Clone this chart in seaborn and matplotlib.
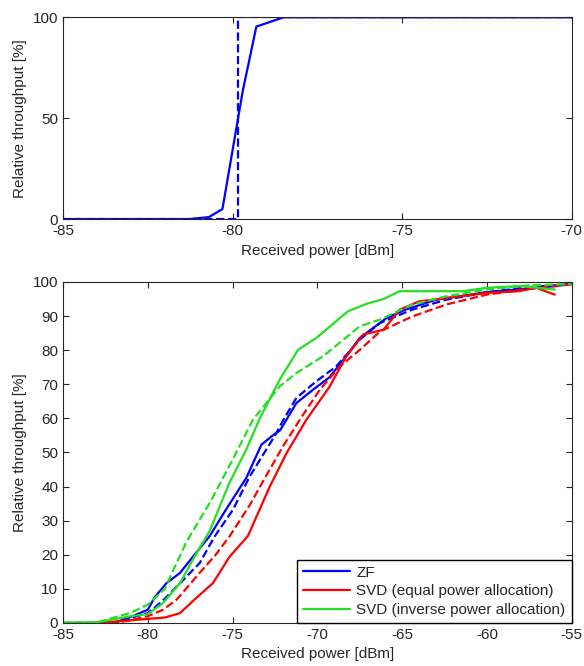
import matplotlib
matplotlib.use('Agg')
import matplotlib.pyplot as plt
import seaborn as sns
from matplotlib.lines import Line2D

# top panel: ZF, single link
top_x = [-85, -81.3, -80.7, -80.3, -79.7, -79.3, -78.5, -70]
top_y = [0, 0, 1, 5, 63.6, 95.4, 100, 100]
top_dash_x = [-85, -79.85, -79.85, -70]
top_dash_y = [0, 0, 100, 100]

# bottom panel
zf_x = [-85, -82, -81, -80, -79.6, -78.9, -78.1, -77.33, -76.35, -75.4, -74.2, -73.3, -72.71,
        -72.2, -71.24, -70.26, -69.3, -68.3, -67.5, -65.9, -64.8, -63, -60, -56.9, -55]
zf_y = [0, 0, 1.8, 3.9, 7.5, 11.7, 14.7, 19.5, 25.5, 33.2, 42.5, 52.3, 54.7,
        56.5, 64.5, 68.4, 72, 78.2, 83.6, 89.5, 91.9, 94.8, 97, 98.3, 99.4]
zf_dash_x = [-85, -82, -81, -80, -79.1, -77.9, -76.94, -76.06, -74.98, -73.99, -72.5, -72,
             -71.24, -70.06, -68.9, -67.5, -66.3, -64.4, -62.4, -60, -57.5, -55]
zf_dash_y = [0, 0, 1.5, 2.9, 6.6, 12.7, 17.6, 25.4, 33.2, 43, 55, 59.6,
             66, 70.9, 75.2, 83.1, 88, 91.9, 94.8, 97, 98.5, 99.4]

svd_eq_x = [-85, -83, -81, -80, -79, -78.1, -77.33, -76.16, -75.17, -74.1, -72.81, -71.8,
            -70.65, -69.27, -68.3, -67.3, -66.1, -65.15, -64, -62.4, -60, -58.1, -57.1, -56]
svd_eq_y = [0, 0, 0.8, 1.2, 1.6, 2.9, 6.5, 11.7, 19.5, 25.5, 40, 50,
            59.6, 69.4, 78.2, 84.6, 86, 91.9, 94.3, 95.3, 96.8, 97.3, 98.3, 96.3]
svd_eq_dash_x = [-85, -82, -81, -80, -79.1, -78.31, -76.94, -76, -75.17, -74, -73.1, -72.03,
                 -71.04, -69.86, -68.68, -67.5, -66.3, -64.4, -62.4, -60, -57.5, -55]
svd_eq_dash_y = [0, 0, 0.8, 2, 3.9, 6.8, 14.7, 20, 25.5, 34.5, 42.5, 51.8,
                 59.6, 68.4, 75.2, 80.1, 85.5, 89.9, 93.4, 96.3, 98, 99.3]

svd_inv_x = [-85, -83, -81, -80, -79.1, -78.1, -77.3, -76.35, -75.2, -74.2, -73.4, -72.22,
             -71.14, -70.06, -68.2, -67.1, -66.1, -65.15, -61.4, -60, -58.1, -56]
svd_inv_y = [0, 0.2, 2, 2.6, 5.9, 11.7, 19, 27, 41, 50.8, 60, 71.4,
             80.1, 83.6, 91.4, 93.6, 95, 97.3, 97.3, 98.3, 98.8, 97.8]
svd_inv_dash_x = [-85, -83, -81, -80, -79, -78.5, -77.7, -76.35, -75, -74.58, -73.8, -72.22,
                  -71.24, -69.67, -67.5, -66.3, -64.4, -62.4, -60, -57.5, -55]
svd_inv_dash_y = [0, 0.2, 3, 5.4, 10, 15.5, 24, 35.2, 47.9, 52, 59.6, 69.4,
                  73.3, 78.2, 87, 89, 93.4, 95.8, 97.8, 99, 99.4]

labels = ['ZF', 'SVD (equal power allocation)', 'SVD (inverse power allocation)']
colors = ['#0000ff', '#ff0000', '#22e022']

sns.set_style('ticks')
plt.rcParams['font.family'] = ['Liberation Sans', 'DejaVu Sans']
plt.rcParams['axes.unicode_minus'] = False
plt.rcParams['xtick.direction'] = 'in'
plt.rcParams['ytick.direction'] = 'in'
plt.rcParams['xtick.top'] = True
plt.rcParams['ytick.right'] = True

fig = plt.figure(figsize=(5.84, 6.66), dpi=100)
ax1 = fig.add_axes([0.108, 0.671, 0.871, 0.303])
ax2 = fig.add_axes([0.108, 0.0646, 0.871, 0.512])

lw = 1.6
fs = 11
sns.lineplot(x=top_x, y=top_y, ax=ax1, color=colors[0], linewidth=lw,
             estimator=None, sort=False)
sns.lineplot(x=top_dash_x, y=top_dash_y, ax=ax1, color=colors[0], linewidth=lw,
             linestyle='--', estimator=None, sort=False)
ax1.set_xlim(-85, -70)
ax1.set_ylim(0, 100)
ax1.set_xticks([-85, -80, -75, -70])
ax1.set_yticks([0, 50, 100])
ax1.set_xlabel('Received power [dBm]', fontsize=fs)
ax1.set_ylabel('Relative throughput [%]', fontsize=fs)

series = [(zf_x, zf_y, zf_dash_x, zf_dash_y),
          (svd_eq_x, svd_eq_y, svd_eq_dash_x, svd_eq_dash_y),
          (svd_inv_x, svd_inv_y, svd_inv_dash_x, svd_inv_dash_y)]
for (sx, sy, dx, dy), c in zip(series, colors):
    sns.lineplot(x=sx, y=sy, ax=ax2, color=c, linewidth=lw, estimator=None, sort=False)
    sns.lineplot(x=dx, y=dy, ax=ax2, color=c, linewidth=lw, linestyle='--',
                 estimator=None, sort=False)
ax2.set_xlim(-85, -55)
ax2.set_ylim(0, 100)
ax2.set_xticks(range(-85, -54, 5))
ax2.set_yticks(range(0, 101, 10))
ax2.set_xlabel('Received power [dBm]', fontsize=fs)
ax2.set_ylabel('Relative throughput [%]', fontsize=fs)

handles = [Line2D([0], [0], color=c, linewidth=lw) for c in colors]
ax2.legend(handles, labels, loc='lower right', fontsize=fs, frameon=True,
           fancybox=False, edgecolor='black', framealpha=1,
           borderaxespad=0, handlelength=3.1, handletextpad=0.4,
           borderpad=0.4, labelspacing=0.3)

for ax in (ax1, ax2):
    ax.tick_params(labelsize=fs, length=4, width=0.8)
    for s in ax.spines.values():
        s.set_visible(True)
        s.set_linewidth(0.8)

fig.savefig('out.png', dpi=100)
